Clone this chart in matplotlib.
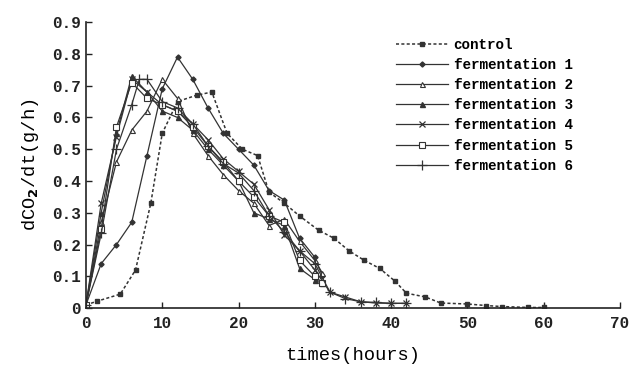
import matplotlib
matplotlib.use("Agg")
import matplotlib.pyplot as plt

plt.rcParams['font.family'] = ['Liberation Mono', 'DejaVu Sans Mono']
plt.rcParams['font.weight'] = 'bold'

# time (hours) and dCO2/dt (g/h) for each run
t_control = [0, 1.5, 4.5, 6.5, 8.5, 10, 12, 14.5, 16.5, 18.5, 20.5, 22.5, 24, 26, 28,
             30.5, 32.5, 34.5, 36.5, 38.5, 40.5, 42, 44.5, 46.5, 50, 52.5, 54.5, 58, 60]
y_control = [0.01, 0.022, 0.044, 0.12, 0.33, 0.55, 0.65, 0.67, 0.68, 0.55, 0.50, 0.48, 0.365,
             0.33, 0.29, 0.245, 0.22, 0.18, 0.15, 0.125, 0.085, 0.047, 0.035, 0.016, 0.013,
             0.008, 0.005, 0.002, 0.002]

t_f1 = [0, 2, 4, 6, 8, 10, 12, 14, 16, 18, 20, 22, 24, 26, 28, 30, 31]
y_f1 = [0.01, 0.14, 0.20, 0.27, 0.48, 0.69, 0.79, 0.72, 0.63, 0.55, 0.50, 0.45, 0.37, 0.34,
        0.22, 0.16, 0.10]

t_f2 = [0, 2, 4, 6, 8, 10, 12, 14, 16, 18, 20, 22, 24, 26, 28, 30, 31]
y_f2 = [0.01, 0.27, 0.46, 0.56, 0.62, 0.72, 0.66, 0.55, 0.48, 0.42, 0.37, 0.33, 0.26, 0.28,
        0.21, 0.15, 0.11]

t_f3 = [0, 2, 4, 6, 8, 10, 12, 14, 16, 18, 20, 22, 24, 26, 28, 30, 31]
y_f3 = [0.01, 0.30, 0.55, 0.73, 0.68, 0.62, 0.60, 0.56, 0.50, 0.45, 0.40, 0.30, 0.28, 0.26,
        0.125, 0.09, 0.08]

t_f4 = [0, 2, 4, 6, 8, 10, 12, 14, 16, 18, 20, 22, 24, 26, 28, 30, 32, 34, 36, 38, 40, 42]
y_f4 = [0.01, 0.33, 0.54, 0.72, 0.68, 0.64, 0.62, 0.58, 0.53, 0.47, 0.43, 0.39, 0.31, 0.23,
        0.18, 0.12, 0.05, 0.035, 0.02, 0.016, 0.015, 0.015]

t_f5 = [0, 2, 4, 6, 8, 10, 12, 14, 16, 18, 20, 22, 24, 26, 28, 30, 31]
y_f5 = [0.01, 0.25, 0.57, 0.71, 0.66, 0.64, 0.62, 0.57, 0.51, 0.46, 0.40, 0.35, 0.29, 0.27,
        0.15, 0.10, 0.08]

t_f6 = [0, 2, 4, 6, 7, 8, 10, 12, 14, 16, 18, 20, 22, 24, 26, 28, 30, 32, 34, 36, 38, 40, 42]
y_f6 = [0.01, 0.235, 0.50, 0.64, 0.72, 0.72, 0.65, 0.63, 0.58, 0.51, 0.455, 0.425, 0.37,
        0.29, 0.24, 0.18, 0.14, 0.05, 0.03, 0.02, 0.018, 0.015, 0.015]

x_ticks = [0, 10, 20, 30, 40, 50, 60, 70]
y_ticks = [0, 0.1, 0.2, 0.3, 0.4, 0.5, 0.6, 0.7, 0.8, 0.9]
y_ticklabels = ['0', '0.1', '0.2', '0.3', '0.4', '0.5', '0.6', '0.7', '0.8', '0.9']

c = '#333333'

fig = plt.figure(figsize=(6.32, 3.69), dpi=100)
ax = fig.add_axes([0.136, 0.165, 0.845, 0.775])

ax.plot(t_control, y_control, linestyle=(0, (2, 1.5)), color=c, lw=1.1,
        marker='s', ms=2.6, mfc=c, mec=c, label='control')
ax.plot(t_f1, y_f1, '-', color=c, lw=0.9, marker='D', ms=2.6, mfc=c, mec=c, label='fermentation 1')
ax.plot(t_f2, y_f2, '-', color=c, lw=0.9, marker='^', ms=3.6, mfc='white', mec=c, mew=0.8,
        label='fermentation 2')
ax.plot(t_f3, y_f3, '-', color=c, lw=0.9, marker='^', ms=3.6, mfc=c, mec=c, label='fermentation 3')
ax.plot(t_f4, y_f4, '-', color=c, lw=0.9, marker='x', ms=4.5, mec=c, mew=0.9, label='fermentation 4')
ax.plot(t_f5, y_f5, '-', color=c, lw=0.9, marker='s', ms=4.5, mfc='white', mec=c, mew=0.8,
        label='fermentation 5')
ax.plot(t_f6, y_f6, '-', color=c, lw=0.9, marker='+', ms=7, mec=c, mew=0.9, label='fermentation 6')

ax.set_xlim(0, 70)
ax.set_ylim(0, 0.9)
ax.set_xticks(x_ticks)
ax.set_yticks(y_ticks)
ax.set_yticklabels(y_ticklabels)
ax.tick_params(direction='in', length=4, width=1, labelsize=11.5, colors='#222222')
ax.tick_params(axis='x', pad=6)
ax.spines['top'].set_visible(False)
ax.spines['right'].set_visible(False)
for s in ['left', 'bottom']:
    ax.spines[s].set_linewidth(1.2)
    ax.spines[s].set_color('#222222')

ax.set_xlabel('times(hours)', fontsize=13.5, labelpad=11)
ax.set_ylabel('dCO$_2$/dt(g/h)', fontsize=13.5, labelpad=8)

leg = ax.legend(loc='upper left', bbox_to_anchor=(0.557, 0.99), frameon=False,
                fontsize=10.3, handlelength=3.6, labelspacing=0.43, handletextpad=0.4)

fig.savefig('out.png', dpi=100)
